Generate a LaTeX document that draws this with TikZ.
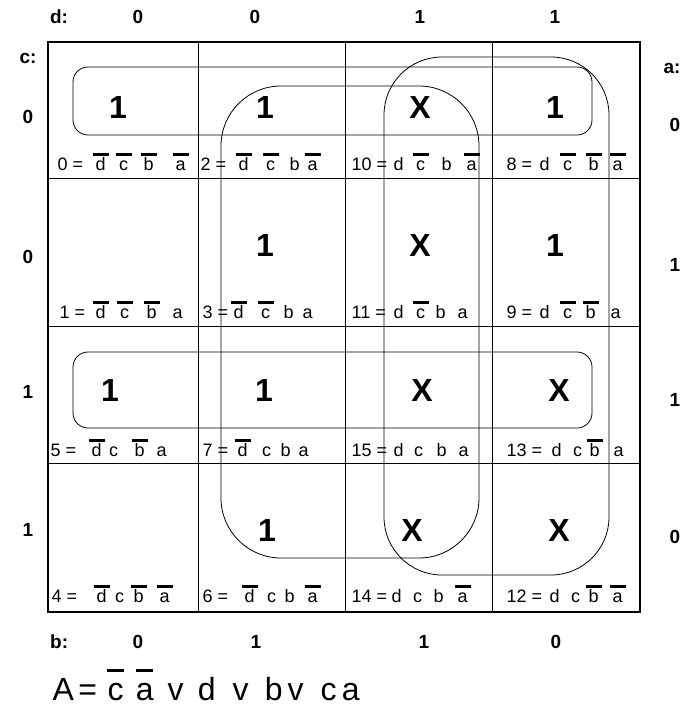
\documentclass[tikz,border=0pt]{standalone}
\usepackage{fontspec}
\setmainfont{Liberation Sans}
% place text left-aligned at x (no advance)
\newcommand\Ls[2]{\makebox[0pt][l]{\hspace*{#1pt}#2}}
% place letter centred at x
\newcommand\Lp[2]{\makebox[0pt][l]{\hspace*{#1pt}\makebox[0pt][c]{#2}}}
% place letter centred at x with a bar above
\newcommand\Lq[2]{\makebox[0pt][l]{\hspace*{#1pt}\makebox[0pt][c]{\rule[14pt]{16pt}{3pt}}}\Lp{#1}{#2}}
% formula bar letter
\newcommand\Fq[2]{\makebox[0pt][l]{\hspace*{#1pt}\makebox[0pt][c]{\rule[28pt]{17pt}{3pt}}}\Lp{#1}{#2}}
\begin{document}
\begin{tikzpicture}[x=1pt,y=-1pt,
  hdr/.style={font=\fontsize{19}{19}\selectfont\bfseries, inner sep=0},
  val/.style={font=\fontsize{32}{32}\selectfont\bfseries, inner sep=0},
  lbl/.style={font=\fontsize{18}{18}\selectfont, inner sep=0, anchor=base west},
  frm/.style={font=\fontsize{32}{32}\selectfont, inner sep=0, anchor=base west},
  grid/.style={line width=1pt},
  border/.style={line width=2.5pt},
  grp/.style={draw, line width=0.8pt}]
\useasboundingbox (0,0) rectangle (683,707);

% grid
\draw[grid] (198,42) -- (198,612) (345,42) -- (345,612) (492,42) -- (492,612);
\draw[grid] (48,178) -- (640,178) (48,326) -- (640,326) (48,463) -- (640,463);
\draw[border] (48,42) rectangle (640,612);

% header labels
\node[hdr] (dl) at (59,17) {d:};
\node[hdr] (d0) at (138,17) {0};
\node[hdr] (d1) at (255,17) {0};
\node[hdr] (d2) at (420,17) {1};
\node[hdr] (d3) at (555,17) {1};
\node[hdr] (cl) at (28,58) {c:};
\node[hdr] (c0) at (28,117) {0};
\node[hdr] (c1) at (28,257) {0};
\node[hdr] (c2) at (28,392) {1};
\node[hdr] (c3) at (28,530) {1};
\node[hdr] (al) at (672,68) {a:};
\node[hdr] (a0) at (675,125) {0};
\node[hdr] (a1) at (675,265) {1};
\node[hdr] (a2) at (675,400) {1};
\node[hdr] (a3) at (675,537) {0};
\node[hdr,anchor=base west] (bl) at (50,648) {b:};
\node[hdr,anchor=base] (b0) at (138,648) {0};
\node[hdr,anchor=base] (b1) at (256,648) {1};
\node[hdr,anchor=base] (b2) at (424,648) {1};
\node[hdr,anchor=base] (b3) at (556,648) {0};

% cell values
\node[val] (v0) at (118,107) {1};
\node[val] (v2) at (265,107) {1};
\node[val] (v10) at (420,107) {X};
\node[val] (v8) at (555,107) {1};
\node[val] (v3) at (265,245) {1};
\node[val] (v11) at (420,245) {X};
\node[val] (v9) at (555,245) {1};
\node[val] (v5) at (110,390) {1};
\node[val] (v7) at (264,390) {1};
\node[val] (v15) at (422,390) {X};
\node[val] (v13) at (559,390) {X};
\node[val] (v6) at (267,530) {1};
\node[val] (v14) at (412,530) {X};
\node[val] (v12) at (559,530) {X};

% cell labels
\node[lbl] (l0) at (0,170) {\Ls{57}{0 =}\Lq{100}{d}\Lq{123}{c}\Lq{148}{b}\Lq{180}{a}};
\node[lbl] (l2) at (0,170) {\Ls{200}{2 =}\Lq{243}{d}\Lq{270}{c}\Lp{294}{b}\Lq{312}{a}};
\node[lbl] (l10) at (0,170) {\Ls{351}{10 =}\Lp{398}{d}\Lq{420}{c}\Lp{446}{b}\Lq{471}{a}};
\node[lbl] (l8) at (0,170) {\Ls{506}{8 =}\Lp{544}{d}\Lq{567}{c}\Lq{593}{b}\Lq{617}{a}};

\node[lbl] (l1) at (0,318) {\Ls{59}{1 =}\Lq{100}{d}\Lq{124}{c}\Lq{151}{b}\Lp{177}{a}};
\node[lbl] (l3) at (0,318) {\Ls{202}{3 =}\Lq{238}{d}\Lq{265}{c}\Lp{288}{b}\Lp{307}{a}};
\node[lbl] (l11) at (0,318) {\Ls{351}{11 =}\Lp{398}{d}\Lq{420}{c}\Lp{440}{b}\Lp{462}{a}};
\node[lbl] (l9) at (0,318) {\Ls{506}{9 =}\Lp{544}{d}\Lq{567}{c}\Lq{590}{b}\Lp{615}{a}};

\node[lbl] (l5) at (0,456) {\Ls{50}{5 =}\Lq{96}{d}\Lp{113}{c}\Lq{139}{b}\Lp{161}{a}};
\node[lbl] (l7) at (0,456) {\Ls{202}{7 =}\Lq{242}{d}\Lp{266}{c}\Lp{285}{b}\Lp{303}{a}};
\node[lbl] (l15) at (0,456) {\Ls{351}{15 =}\Lp{398}{d}\Lp{418}{c}\Lp{441}{b}\Lp{463}{a}};
\node[lbl] (l13) at (0,456) {\Ls{506}{13 =}\Lp{556}{d}\Lp{577}{c}\Lq{594}{b}\Lp{618}{a}};

\node[lbl] (l4) at (0,602) {\Ls{51}{4 =}\Lq{101}{d}\Lp{119}{c}\Lq{138}{b}\Lq{164}{a}};
\node[lbl] (l6) at (0,602) {\Ls{202}{6 =}\Lq{249}{d}\Lp{271}{c}\Lp{289}{b}\Lq{312}{a}};
\node[lbl] (l14) at (0,602) {\Ls{351}{14 =}\Lp{396}{d}\Lp{417}{c}\Lp{438}{b}\Lq{462}{a}};
\node[lbl] (l12) at (0,602) {\Ls{506}{12 =}\Lp{554}{d}\Lp{575}{c}\Lq{593}{b}\Lq{617}{a}};

% groups
\draw[grp, rounded corners=15pt] (73,67) rectangle (592,135);
\draw[grp, rounded corners=15pt] (73,352) rectangle (592,428);
\draw[grp, rounded corners=60pt] (221,86) rectangle (479,558);
\draw[grp, rounded corners=58pt] (384,57) rectangle (609,575);

% formula
\node[frm] (f) at (0,700) {\Ls{52}{A}\Lp{87}{=}\Fq{115}{c}\Fq{144}{a}\Lp{175}{v}\Lp{206}{d}\Lp{240}{v}\Lp{273}{b}\Lp{295}{v}\Lp{328}{c}\Lp{350}{a}};
\end{tikzpicture}
\end{document}
